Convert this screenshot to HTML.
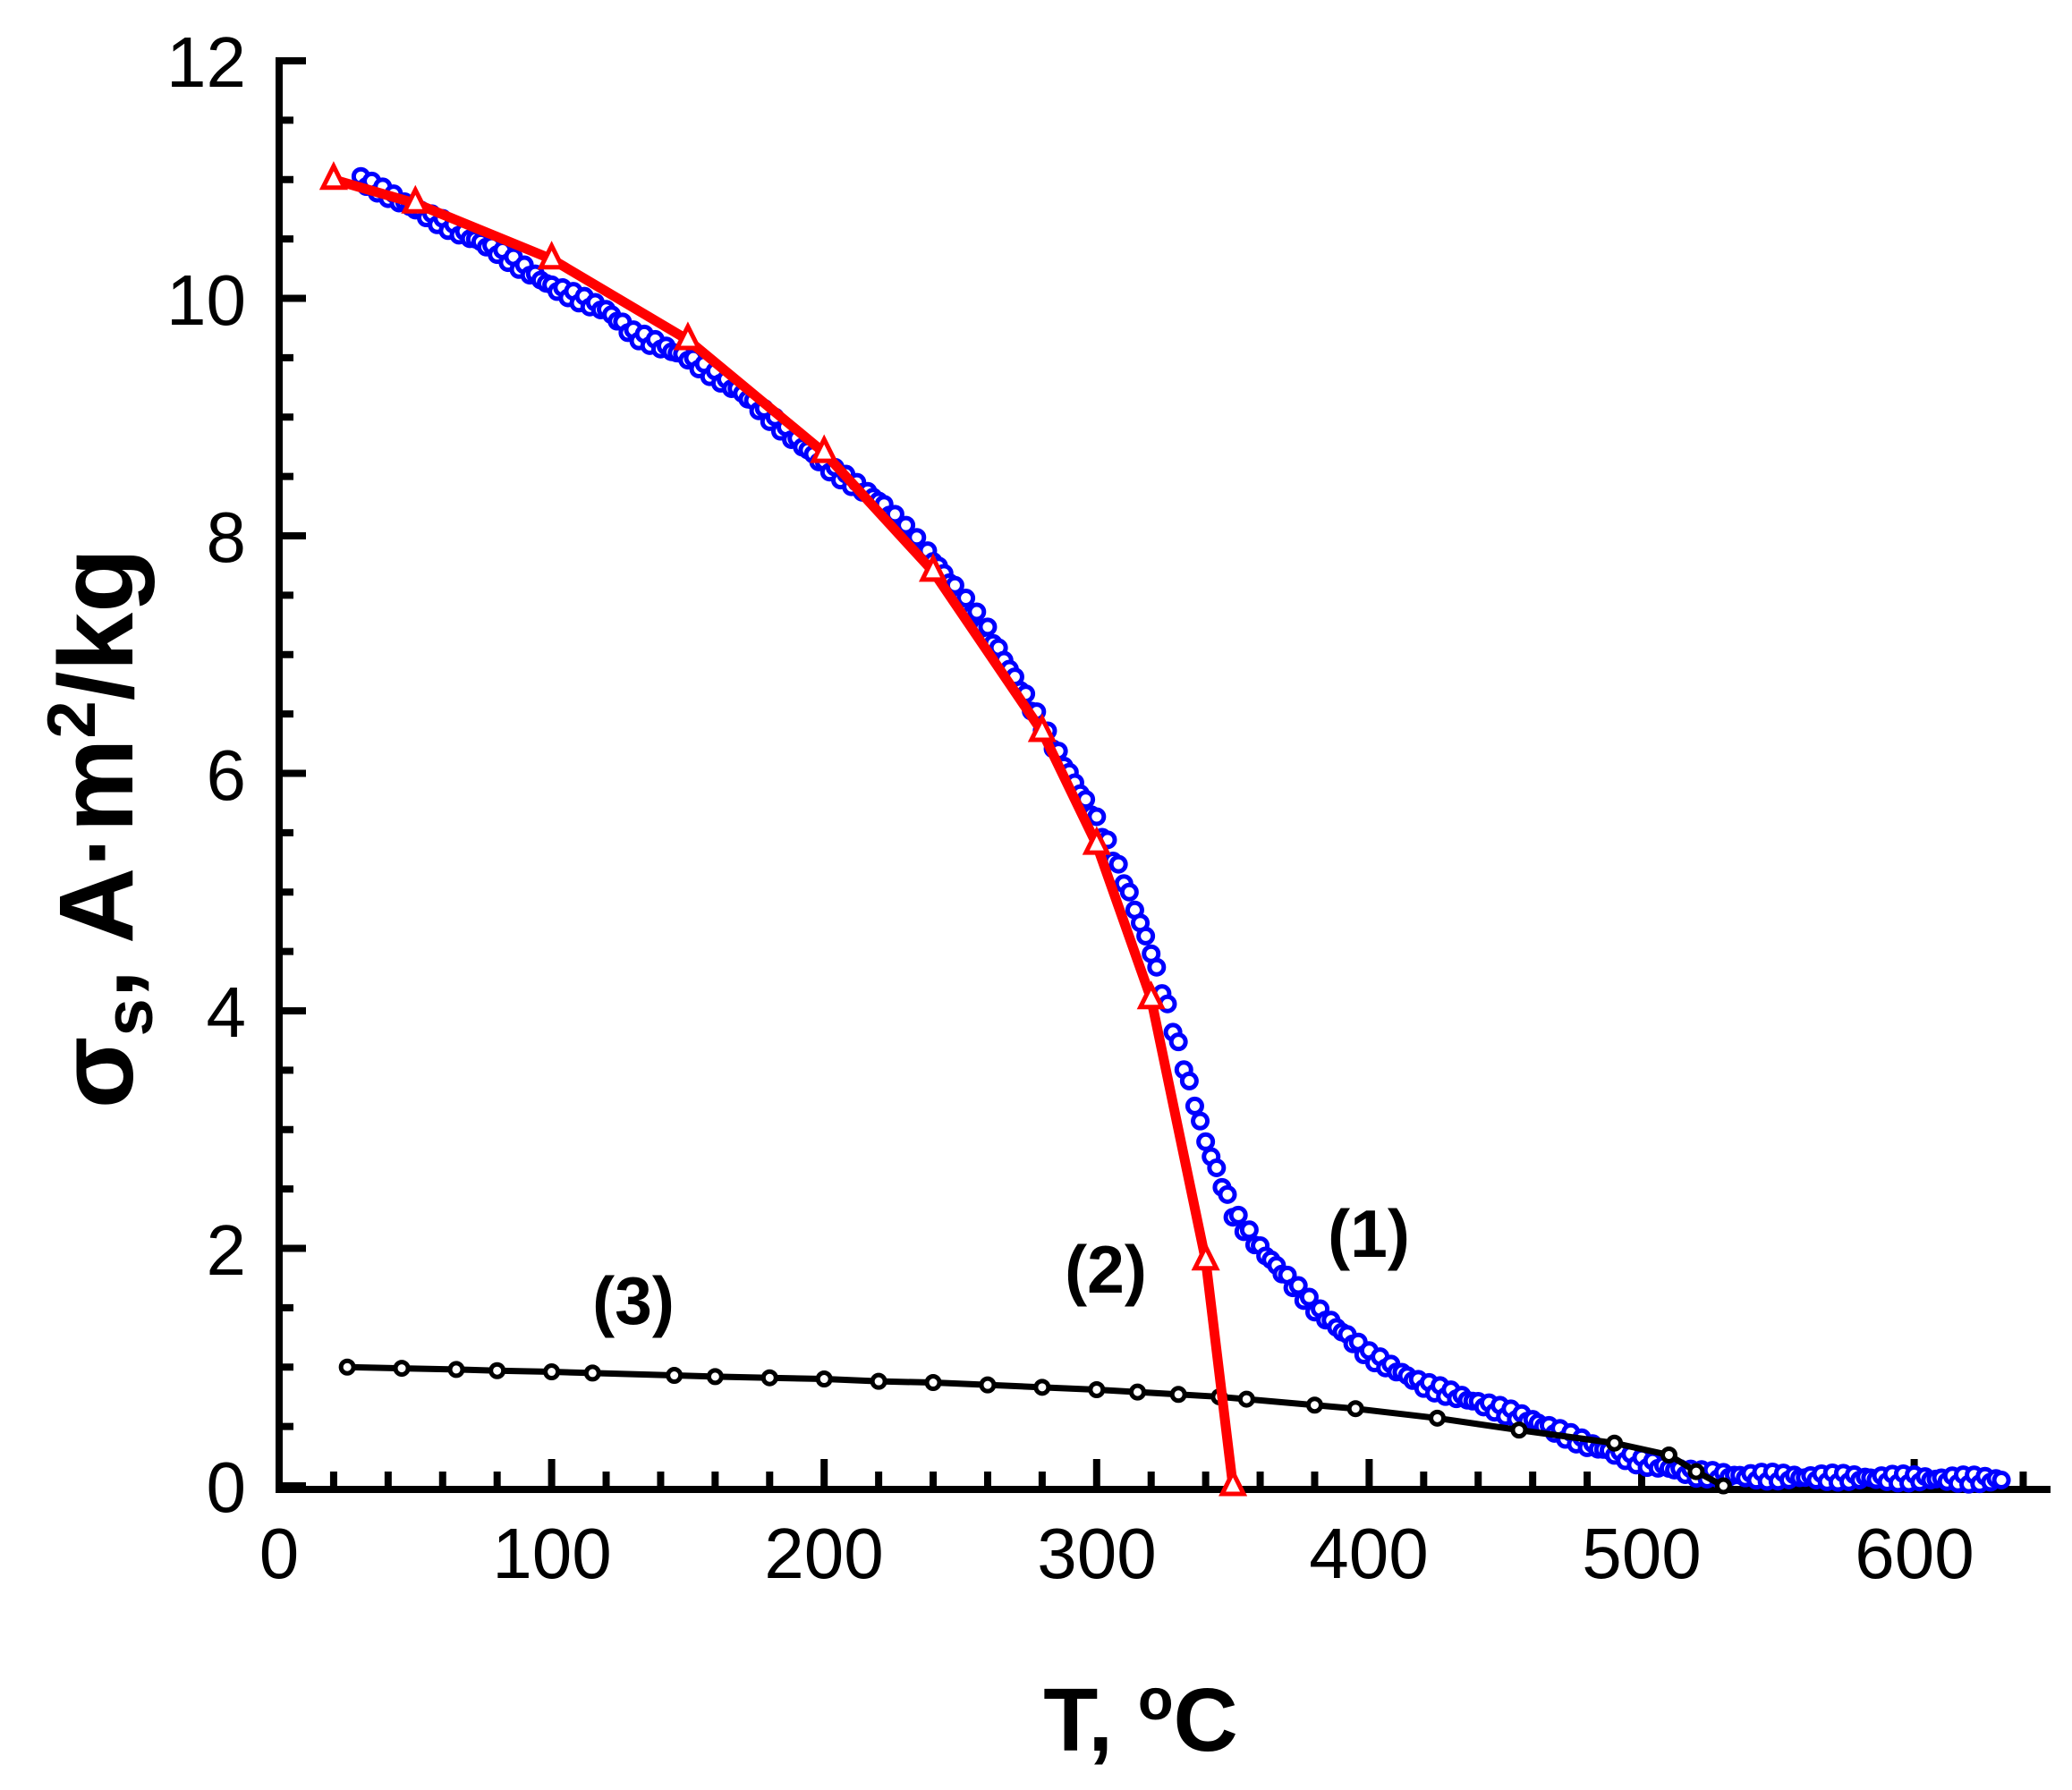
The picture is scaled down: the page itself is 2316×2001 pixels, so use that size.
<!DOCTYPE html>
<html><head><meta charset="utf-8"><style>html,body{margin:0;padding:0;background:#fff}svg{display:block}</style></head>
<body>
<svg id="s" width="2316" height="2001" xmlns="http://www.w3.org/2000/svg" font-family="Liberation Sans, Arial, sans-serif">
<rect width="2316" height="2001" fill="#fff"/>
<g id="ax" stroke="#000" stroke-width="8" fill="none"></g>
<g font-size="80" text-anchor="end" fill="#000">
<text x="275" y="1690">0</text><text x="275" y="1425">2</text><text x="275" y="1159">4</text><text x="275" y="894">6</text><text x="275" y="628">8</text><text x="275" y="363">10</text><text x="275" y="97">12</text>
</g>
<g font-size="80" text-anchor="middle" fill="#000">
<text x="312" y="1764">0</text><text x="617" y="1764">100</text><text x="921" y="1764">200</text><text x="1226" y="1764">300</text><text x="1530" y="1764">400</text><text x="1835" y="1764">500</text><text x="2140" y="1764">600</text>
</g>
<text x="1275" y="1957" font-size="100" font-weight="bold" text-anchor="middle">T, <tspan font-size="65" dy="-35">o</tspan><tspan dy="35">C</tspan></text>
<text transform="translate(148,926) rotate(-90)" font-size="118" font-weight="bold" text-anchor="middle">σ<tspan font-size="76" dy="22">s</tspan><tspan dy="-22">, A·m</tspan><tspan font-size="76" dy="-42">2</tspan><tspan dy="42">/kg</tspan></text>
<g font-size="75" font-weight="bold" text-anchor="middle">
<text x="1530" y="1405">(1)</text><text x="1236" y="1445">(2)</text><text x="708" y="1480">(3)</text>
</g>
<g id="blue"></g><g id="black"></g><g id="red"></g>
</svg>
<script>
var X=t=>312+t*3.046, Y=s=>1661-s*132.75, NS="http://www.w3.org/2000/svg";
function el(p,n,a){var e=document.createElementNS(NS,n);for(var k in a)e.setAttribute(k,a[k]);p.appendChild(e);return e;}
var ax=document.getElementById('ax');
el(ax,'path',{d:'M312 64 L312 1665 L2292 1665'});
for(var v=0;v<=12;v+=0.5){var y=Y(v);el(ax,'line',{x1:312,y1:y,x2:312+(v%2==0?30:16),y2:y});}
for(var t=20;t<=640;t+=20){var x=X(t);el(ax,'line',{x1:x,y1:1661,x2:x,y2:1661-(t%100==0?30:16)});}
function interp(pts,t){for(var i=0;i<pts.length-1;i++){if(t>=pts[i][0]&&t<=pts[i+1][0]){var f=(t-pts[i][0])/(pts[i+1][0]-pts[i][0]);return pts[i][1]+f*(pts[i+1][1]-pts[i][1]);}}return pts[pts.length-1][1];}
var bp=[[30,11],[50,10.75],[80,10.4],[100,10.1],[120,9.9],[130,9.7],[150,9.5],[170,9.2],[200,8.6],[220,8.3],[240,7.8],[260,7.2],[280,6.4],[300,5.6],[310,5.1],[320,4.5],[330,3.7],[340,2.9],[350,2.3],[360,2.0],[380,1.5],[400,1.1],[420,0.85],[440,0.7],[460,0.55],[480,0.35],[500,0.2],[520,0.1],[540,0.08],[632,0.05]];
var bg=document.getElementById('blue');
for(var t=30;t<=632;t+=2){var s=interp(bp,t)+(Math.sin(t*1.7)*0.04);el(bg,'circle',{cx:X(t),cy:Y(s),r:8,fill:'#fff',stroke:'#0000ff','stroke-width':5});}
var kp=[[25,1.0],[45,0.99],[65,0.98],[80,0.97],[100,0.96],[115,0.95],[145,0.93],[160,0.92],[180,0.91],[200,0.9],[220,0.88],[240,0.87],[260,0.85],[280,0.83],[300,0.81],[315,0.79],[330,0.77],[345,0.75],[355,0.73],[380,0.68],[395,0.65],[425,0.57],[455,0.47],[490,0.36],[510,0.26],[520,0.12],[530,0.0]];
var kg=document.getElementById('black');
el(kg,'polyline',{points:kp.map(p=>X(p[0])+','+Y(p[1])).join(' '),fill:'none',stroke:'#000','stroke-width':7});
kp.forEach(p=>el(kg,'circle',{cx:X(p[0]),cy:Y(p[1]),r:7,fill:'#fff',stroke:'#000','stroke-width':5}));
var rp=[[20,11],[50,10.8],[100,10.33],[150,9.65],[200,8.7],[240,7.7],[280,6.35],[300,5.4],[320,4.1],[340,1.9],[350,0]];
var rg=document.getElementById('red');
el(rg,'polyline',{points:rp.map(p=>X(p[0])+','+Y(p[1])).join(' '),fill:'none',stroke:'#ff0000','stroke-width':11});
rp.forEach(p=>{var x=X(p[0]),y=Y(p[1]);el(rg,'polygon',{points:(x)+','+(y-15)+' '+(x-12)+','+(y+9)+' '+(x+12)+','+(y+9),fill:'#fff',stroke:'#ff0000','stroke-width':5});});
</script>
</body></html>
